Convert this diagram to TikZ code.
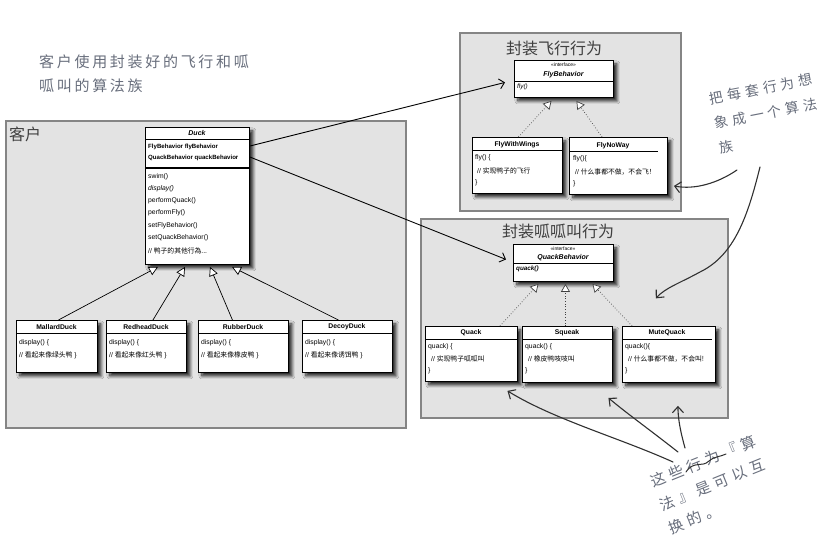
\documentclass[tikz,border=0pt]{standalone}
\usepackage{fontspec}
\setmainfont{Liberation Sans}
\newfontfamily\cjk{Noto Sans CJK SC}
\newfontfamily\notefont[LetterSpace=18]{Noto Sans CJK SC}
\newfontfamily\handfont[LetterSpace=30]{Noto Sans CJK SC}
\usetikzlibrary{arrows.meta,shadows.blur,calc}
\definecolor{grpfill}{HTML}{E3E3E3}
\definecolor{grpline}{HTML}{858585}
\definecolor{notecol}{HTML}{686E7C}
\definecolor{titlecol}{HTML}{404040}
\definecolor{inkcol}{HTML}{303030}
\tikzset{
  grp/.style={draw=grpline, line width=1.8pt, fill=grpfill, inner sep=0, anchor=north west},
  cls/.style={draw=black, line width=0.9pt, fill=white, inner sep=0, anchor=north west,
    blur shadow={shadow xshift=3.5pt, shadow yshift=-3.5pt, shadow blur steps=8, shadow blur radius=3pt, shadow opacity=85}},
  sepline/.style={draw=black, line width=0.7pt},
  clsname/.style={inner sep=0, font=\fontsize{6.8}{7}\selectfont\bfseries},
  bodytxt/.style={inner sep=0, anchor=west, font=\fontsize{6.8}{7}\selectfont},
  grptitle/.style={inner sep=0, text=titlecol, font=\cjk\fontsize{16}{18}\selectfont},
  inherit/.style={draw=black, line width=0.7pt, -{Triangle[fill=white, length=9pt, width=9pt]}},
  realize/.style={draw=black!75, dotted, line width=0.7pt, -{Triangle[fill=white, length=8pt, width=9pt]}},
  assoc/.style={draw=black, line width=0.9pt, -{Straight Barb[length=5pt, width=10pt]}},
  handarrow/.style={draw=inkcol, line width=1.1pt, line cap=round, -{Straight Barb[length=6pt, width=11pt]}},
  notetxt/.style={inner sep=0, text=notecol, align=left}
}
\begin{document}
\begin{tikzpicture}[x=1pt,y=-1pt]
\useasboundingbox (0,0) rectangle (823,545);
\fill[white] (0,0) rectangle (823,545);

% ---------- groups ----------
\node[grp, minimum width=400pt, minimum height=307pt] (client) at (5,120) {};
\node[grptitle, anchor=west] (clientlbl) at (9,134) {客户};
\node[grp, minimum width=221pt, minimum height=178pt] (flygrp) at (459,32) {};
\node[grptitle] (flylbl) at (554,48) {封装飞行行为};
\node[grp, minimum width=307pt, minimum height=199pt] (quackgrp) at (420,218) {};
\node[grptitle] (quacklbl) at (558,231) {封装呱呱叫行为};

% ---------- Duck ----------
\node[cls, minimum width=104pt, minimum height=137pt] (duck) at (145,127) {};
\draw[sepline] (145,139) -- (249,139);
\draw[draw=black, line width=1.5pt] (145,168) -- (249,168);
\node[clsname, font=\fontsize{7}{8}\selectfont\bfseries\itshape] (duckname) at (197,133) {Duck};
\node[bodytxt, font=\fontsize{6.1}{7}\selectfont\bfseries] (da1) at (148,147) {FlyBehavior flyBehavior};
\node[bodytxt, font=\fontsize{6.1}{7}\selectfont\bfseries] (da2) at (148,158) {QuackBehavior quackBehavior};
\node[bodytxt] (dm1) at (148,177) {swim()};
\node[bodytxt, font=\fontsize{6.8}{7}\selectfont\itshape] (dm2) at (148,189) {display()};
\node[bodytxt] (dm3) at (148,201) {performQuack()};
\node[bodytxt] (dm4) at (148,213) {performFly()};
\node[bodytxt] (dm5) at (148,226) {setFlyBehavior()};
\node[bodytxt] (dm6) at (148,238) {setQuackBehavior()};
\node[bodytxt] (dm7) at (148,251) {// {\cjk 鸭子的其他行為}...};

% ---------- Duck subclasses ----------
\node[cls, minimum width=81pt, minimum height=52pt] (mallard) at (16,320) {};
\draw[sepline] (16,333) -- (97,333);
\node[clsname] (mallardname) at (56.5,327) {MallardDuck};
\node[bodytxt] (mb1) at (19,343) {display() \{};
\node[bodytxt] (mb2) at (19,355) {// {\cjk 看起来像绿头鸭} \}};

\node[cls, minimum width=80pt, minimum height=52pt] (redhead) at (106,320) {};
\draw[sepline] (106,333) -- (186,333);
\node[clsname] (redheadname) at (146,327) {RedheadDuck};
\node[bodytxt] (rb1) at (109,343) {display() \{};
\node[bodytxt] (rb2) at (109,355) {// {\cjk 看起来像红头鸭} \}};

\node[cls, minimum width=90pt, minimum height=52pt] (rubber) at (198,320) {};
\draw[sepline] (198,333) -- (288,333);
\node[clsname] (rubbername) at (243,327) {RubberDuck};
\node[bodytxt] (ub1) at (201,343) {display() \{};
\node[bodytxt] (ub2) at (201,355) {// {\cjk 看起来像橡皮鸭} \}};

\node[cls, minimum width=90pt, minimum height=52pt] (decoy) at (302,320) {};
\draw[sepline] (302,333) -- (392,333);
\node[clsname] (decoyname) at (347,327) {DecoyDuck};
\node[bodytxt] (cb1) at (305,343) {display() \{};
\node[bodytxt] (cb2) at (305,355) {// {\cjk 看起来像诱饵鸭} \}};

% ---------- FlyBehavior ----------
\node[cls, minimum width=99pt, minimum height=37pt] (fb) at (514,60) {};
\draw[sepline] (514,81) -- (613,81);
\node[inner sep=0, font=\fontsize{5}{6}\selectfont] (fbst) at (563.5,65) {<<interface>>};
\node[clsname, font=\fontsize{7}{8}\selectfont\bfseries\itshape] (fbname) at (563.5,74.5) {FlyBehavior};
\node[bodytxt, font=\fontsize{6.3}{7}\selectfont\itshape] (fbm) at (517,87) {fly()};

\node[cls, minimum width=90pt, minimum height=56pt] (fww) at (472,137) {};
\draw[sepline] (472,150) -- (562,150);
\node[clsname] (fwwname) at (517,144.5) {FlyWithWings};
\node[bodytxt] (fw1) at (475,158) {fly() \{};
\node[bodytxt] (fw2) at (477,171) {// {\cjk 实现鸭子的飞行}};
\node[bodytxt] (fw3) at (475,183) {\}};

\node[cls, minimum width=98pt, minimum height=57pt] (fnw) at (569,137) {};
\draw[sepline] (569,151) -- (658,151);
\node[clsname] (fnwname) at (613,146) {FlyNoWay};
\node[bodytxt] (fn1) at (573,159) {fly()\{};
\node[bodytxt] (fn2) at (575,172) {// {\cjk 什么事都不做，不会飞！}};
\node[bodytxt] (fn3) at (573,184) {\}};

% ---------- QuackBehavior ----------
\node[cls, minimum width=100pt, minimum height=37pt] (qb) at (513,244) {};
\draw[sepline] (513,263) -- (613,263);
\node[inner sep=0, font=\fontsize{5}{6}\selectfont] (qbst) at (563,249) {<<interface>>};
\node[clsname, font=\fontsize{7}{8}\selectfont\bfseries\itshape] (qbname) at (563,258) {QuackBehavior};
\node[bodytxt, font=\fontsize{6.3}{7}\selectfont\bfseries\itshape] (qbm) at (516,269) {quack()};

\node[cls, minimum width=92pt, minimum height=55pt] (quack) at (425,326) {};
\draw[sepline] (425,339) -- (517,339);
\node[clsname] (quackname) at (471,333) {Quack};
\node[bodytxt] (qk1) at (428,347) {quack) \{};
\node[bodytxt] (qk2) at (431,359) {// {\cjk 实现鸭子呱呱叫}};
\node[bodytxt] (qk3) at (428,371) {\}};

\node[cls, minimum width=90pt, minimum height=56pt] (squeak) at (522,326) {};
\draw[sepline] (522,339) -- (612,339);
\node[clsname] (squeakname) at (567,333) {Squeak};
\node[bodytxt] (sq1) at (525,347) {quack() \{};
\node[bodytxt] (sq2) at (528,359) {// {\cjk 橡皮鸭吱吱叫}};
\node[bodytxt] (sq3) at (525,371) {\}};

\node[cls, minimum width=93pt, minimum height=56pt] (mute) at (622,326) {};
\draw[sepline] (622,339) -- (712,339);
\node[clsname] (mutename) at (667,333) {MuteQuack};
\node[bodytxt] (mq1) at (625,347) {quack()\{};
\node[bodytxt] (mq2) at (628,359) {// {\cjk 什么事都不做，不会叫!}};
\node[bodytxt] (mq3) at (625,371) {\}};

% ---------- inheritance ----------
\draw[inherit] ($(mallard.north)+(1.5,0)$) -- ($(duck.south west)+(13,2)$);
\draw[inherit] ($(redhead.north)+(6.5,0)$) -- ($(duck.south west)+(40,2)$);
\draw[inherit] ($(rubber.north)+(-11,0)$) -- ($(duck.south west)+(65,2)$);
\draw[inherit] ($(decoy.north)+(-9,0)$) -- ($(duck.south west)+(87,2)$);

% ---------- realization ----------
\draw[realize] ($(fww.north)+(1,0)$) -- ($(fb.south)+(-12.5,3)$);
\draw[realize] ($(fnw.north west)+(33,0)$) -- ($(fb.south)+(12.5,3)$);
\draw[realize] ($(quack.north west)+(75,0)$) -- ($(qb.south)+(-25,2)$);
\draw[realize] ($(squeak.north)+(-2,0)$) -- ($(qb.south)+(2,2)$);
\draw[realize] ($(mute.north west)+(10,0)$) -- ($(qb.south)+(29,2)$);

% ---------- associations ----------
\draw[assoc] ($(duck.north east)+(0,19)$) -- ($(fb.west)+(-9,3.5)$);
\draw[assoc] ($(duck.north east)+(0,30)$) -- ($(qb.west)+(-7,-3.5)$);

% ---------- notes ----------
\node[notetxt, anchor=north west, font=\notefont\fontsize{15}{24}\selectfont] (note1) at (39,55) {客户使用封装好的飞行和呱\\呱叫的算法族};
\node[notetxt, anchor=north west, rotate=11, font=\handfont\fontsize{14}{25}\selectfont] (note2) at (708,92.5) {把每套行为想\\象成一个算法\\族};
\node[notetxt, anchor=north west, rotate=22, font=\handfont\fontsize{15}{25}\selectfont] (note3) at (648,476) {这些行为『算\\法』是可以互\\换的。};
\draw[inkcol, line width=1pt, line cap=round] (686,472) .. controls (694,460) and (702,468) .. (709,461) .. controls (715,456) and (720,457) .. (726,454);

% ---------- hand-drawn arrows ----------
\coordinate (n2a) at (737,170);
\coordinate (n2b) at (760,167);
\coordinate (n3a) at (673,462);
\coordinate (n3b) at (678,452);
\coordinate (n3c) at (685,448);
\draw[handarrow] (n2a) .. controls (718,183) and (695,190) .. ($(fnw.east)+(6,20)$);
\draw[handarrow] (n2b) .. controls (748,215) and (735,255) .. (700,272) .. controls (680,283) and (665,288) .. ($(quackgrp.east)+(-73,-20)$);
\draw[handarrow] (n3a) .. controls (620,438) and (555,420) .. ($(quack.south)+(36,9)$);
\draw[handarrow] (n3b) .. controls (650,430) and (625,412) .. ($(squeak.south)+(41,15)$);
\draw[handarrow] (n3c) .. controls (680,430) and (678,418) .. ($(mute.south)+(9,23)$);
\end{tikzpicture}
\end{document}
